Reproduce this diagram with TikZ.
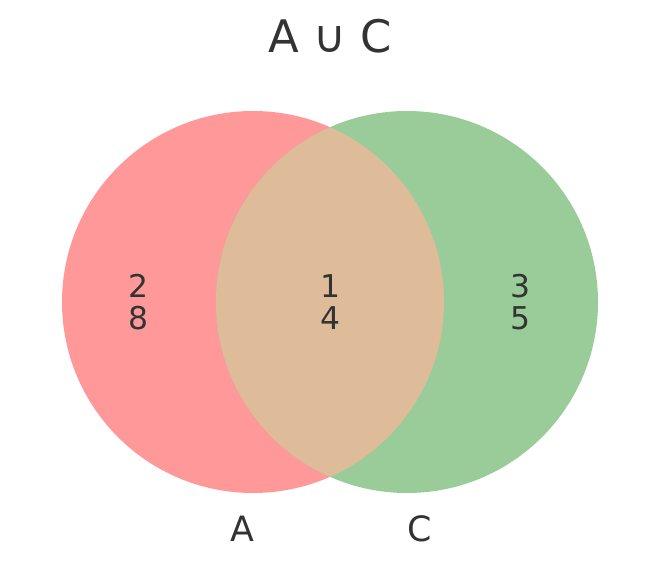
\documentclass[tikz,border=0pt]{standalone}
\usepackage{fontspec}
\setmainfont{DejaVu Sans}
\definecolor{redset}{HTML}{FF9999}
\definecolor{greenset}{HTML}{99CC99}
\definecolor{mixset}{HTML}{DFBC99}
\definecolor{txt}{HTML}{333333}
\tikzset{
  lbl/.style={anchor=base, inner sep=0pt, text=txt, font=\fontsize{31.5}{32}\selectfont},
  setlbl/.style={anchor=base, inner sep=0pt, text=txt, font=\fontsize{35}{36}\selectfont},
  ttl/.style={anchor=base, inner sep=0pt, text=txt, font=\fontsize{45}{46}\selectfont}
}
\begin{document}
\begin{tikzpicture}[x=1bp,y=-1bp]
\useasboundingbox (0,0) rectangle (660,566);
\fill[redset] (253,302) circle[radius=191bp];
\fill[greenset] (407,302) circle[radius=191bp];
\begin{scope}
\clip (253,302) circle[radius=191bp];
\fill[mixset] (407,302) circle[radius=191bp];
\end{scope}
\node[ttl] (title) at (330,53) {A ∪ C};
\node[lbl] (a1) at (138.5,297) {2};
\node[lbl] (a2) at (138.5,329) {8};
\node[lbl] (m1) at (330,297) {1};
\node[lbl] (m2) at (330,329) {4};
\node[lbl] (c1) at (520.5,297) {3};
\node[lbl] (c2) at (520.5,329) {5};
\node[setlbl] (la) at (242,541) {A};
\node[setlbl] (lc) at (420,541) {C};
\end{tikzpicture}
\end{document}
